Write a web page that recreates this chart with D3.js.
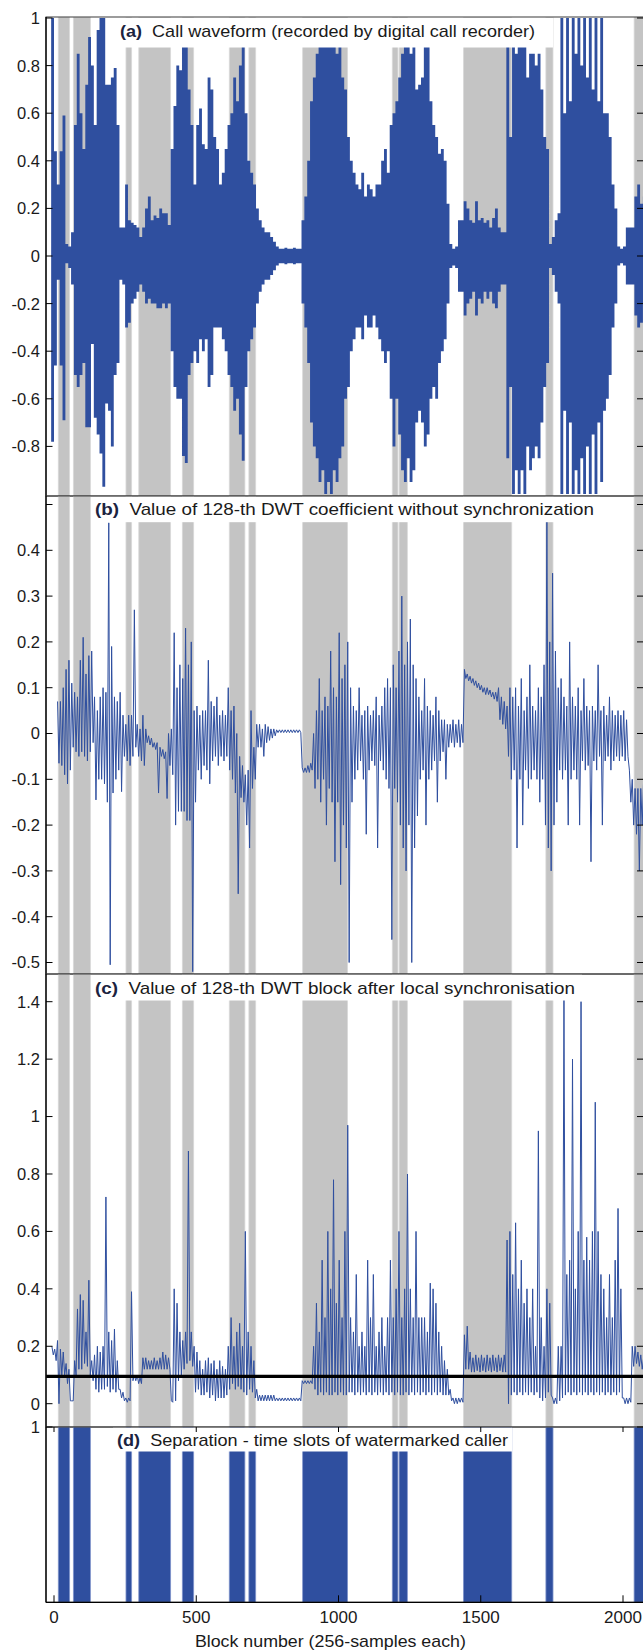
<!DOCTYPE html>
<html>
<head>
<meta charset="utf-8">
<script src="https://cdn.jsdelivr.net/npm/d3@7"></script>
<style>
body { margin:0; background:#fff; }
svg { display:block; font-family:"Liberation Sans", Arial, sans-serif; }
</style>
</head>
<body>
<svg id="chart" width="643" height="1652"></svg>
<script>
// every series is binned: one value per 10 blocks, first bin starts at block -10
let bin_start = -10, bin_size = 10;

// time slots of the watermarked caller [first block, last block]
let slots = [[15,55],[68,128],[253,273],[298,410],[451,491],[616,671],[685,709],
             [874,1032],[1189,1209],[1213,1242],[1439,1609],[1729,1754],[2039,2090]];

// (a) waveform envelope, max / min per bin
let a_hi = [1.0,0.44,0.3,0.44,0.59,0.05,0.04,0.1,0.55,0.85,
  0.6,0.45,0.72,0.92,0.8,0.55,0.95,1.0,1.0,0.72,
  0.72,0.75,0.79,0.55,0.12,0.12,0.3,0.15,0.14,0.13,
  0.12,0.08,0.12,0.2,0.25,0.15,0.17,0.16,0.2,0.18,
  0.18,0.13,0.45,0.63,0.8,0.78,0.88,0.88,0.7,0.55,
  0.3,0.55,0.62,0.47,0.45,0.75,0.7,0.5,0.45,0.3,
  0.35,0.45,0.55,0.6,0.75,0.65,0.8,0.88,0.6,0.4,
  0.35,0.3,0.2,0.15,0.12,0.1,0.1,0.08,0.06,0.04,
  0.03,0.03,0.035,0.03,0.03,0.035,0.03,0.03,0.15,0.25,
  0.4,0.65,0.75,0.85,1.0,0.9,1.0,0.95,1.0,0.9,
  0.85,0.9,0.75,0.7,0.5,0.4,0.35,0.3,0.28,0.35,
  0.25,0.3,0.28,0.25,0.3,0.3,0.4,0.45,0.35,0.55,
  0.6,0.65,0.75,0.85,0.9,0.95,0.85,0.95,0.7,0.72,
  0.75,0.88,0.88,0.65,0.55,0.5,0.43,0.45,0.4,0.22,
  0.05,0.03,0.04,0.15,0.15,0.23,0.2,0.15,0.14,0.23,
  0.15,0.16,0.14,0.15,0.12,0.16,0.2,0.12,0.1,0.1,
  0.88,0.5,1.0,0.85,1.0,0.88,1.0,0.75,0.85,0.85,
  0.8,0.85,0.7,0.5,0.45,0.05,0.08,0.15,0.18,1.0,
  0.6,1.0,0.65,1.0,0.85,1.0,0.8,1.0,0.75,1.0,
  0.7,1.0,0.65,1.0,0.6,0.6,0.5,0.3,0.2,0.04,
  0.03,0.04,0.12,0.12,0.12,0.25,0.3,0.22,0.25];
let a_lo = [-0.78,-0.46,-0.1,-0.46,-0.69,-0.03,-0.05,-0.12,-0.5,-0.55,
  -0.5,-0.45,-0.72,-0.72,-0.37,-0.68,-0.75,-0.83,-0.97,-0.62,
  -0.65,-0.8,-0.5,-0.45,-0.1,-0.12,-0.3,-0.28,-0.2,-0.18,
  -0.15,-0.12,-0.15,-0.2,-0.18,-0.2,-0.2,-0.22,-0.22,-0.2,
  -0.22,-0.2,-0.4,-0.55,-0.6,-0.6,-0.84,-0.87,-0.5,-0.45,
  -0.4,-0.45,-0.35,-0.4,-0.35,-0.55,-0.5,-0.3,-0.3,-0.3,
  -0.35,-0.4,-0.5,-0.55,-0.65,-0.6,-0.75,-0.86,-0.55,-0.4,
  -0.35,-0.3,-0.2,-0.15,-0.12,-0.1,-0.1,-0.08,-0.06,-0.04,
  -0.03,-0.03,-0.035,-0.03,-0.03,-0.035,-0.03,-0.03,-0.2,-0.3,
  -0.45,-0.7,-0.8,-0.85,-0.95,-0.9,-1.0,-0.95,-1.0,-0.9,
  -0.95,-0.85,-0.8,-0.6,-0.55,-0.4,-0.35,-0.3,-0.3,-0.35,
  -0.25,-0.3,-0.3,-0.25,-0.3,-0.35,-0.4,-0.45,-0.4,-0.6,
  -0.8,-0.6,-0.75,-0.9,-0.95,-0.85,-0.95,-0.9,-0.7,-0.65,
  -0.7,-0.8,-0.75,-0.6,-0.55,-0.6,-0.45,-0.4,-0.35,-0.2,
  -0.05,-0.04,-0.05,-0.15,-0.15,-0.25,-0.2,-0.18,-0.15,-0.25,
  -0.18,-0.2,-0.15,-0.18,-0.15,-0.2,-0.22,-0.15,-0.12,-0.12,
  -0.85,-0.55,-1.0,-0.9,-1.0,-0.9,-1.0,-0.8,-0.9,-0.85,
  -0.8,-0.85,-0.7,-0.55,-0.45,-0.05,-0.08,-0.15,-0.2,-1.0,
  -0.65,-1.0,-0.7,-1.0,-0.9,-1.0,-0.85,-1.0,-0.8,-1.0,
  -0.75,-1.0,-0.7,-0.95,-0.65,-0.6,-0.5,-0.3,-0.2,-0.04,
  -0.03,-0.04,-0.12,-0.12,-0.12,-0.25,-0.3,-0.28,-0.2];

// (b) 128-th DWT coefficient, max / min per bin
let b_hi = [null,null,0.07,0.07,0.1,0.14,0.16,0.11,0.09,0.08,
  0.16,0.21,0.13,0.17,0.18,0.08,0.05,0.08,0.1,0.09,
  0.46,0.19,0.08,0.07,0.09,0.04,0.02,0.04,0.04,0.27,
  0.02,0.01,0.04,0.01,-0.005,-0.01,-0.02,-0.02,-0.03,-0.035,
  -0.04,0.0,0.01,0.22,0.1,0.15,0.12,0.23,0.15,0.2,
  0.05,0.06,0.04,0.05,0.05,0.16,0.07,0.06,0.08,0.04,
  0.05,0.04,0.1,0.05,0.06,0.0,-0.05,-0.07,-0.09,-0.08,
  0.05,-0.03,0.02,0.02,0.01,0.02,0.015,0.01,0.01,0.008,
  0.008,0.008,0.008,0.008,0.008,0.008,0.008,0.008,-0.075,-0.075,
  -0.07,-0.065,0.0,0.05,0.12,0.05,0.08,0.06,0.18,0.1,
  0.08,0.22,0.12,0.15,0.2,0.1,0.06,0.05,0.1,0.04,
  0.05,0.06,0.04,0.05,0.08,0.04,0.06,0.1,0.12,0.1,
  0.15,0.1,0.18,0.3,0.15,0.2,0.25,0.15,0.12,0.08,
  0.05,0.12,0.06,0.05,0.04,0.08,0.05,0.03,0.03,0.02,
  0.02,0.03,0.02,0.03,0.02,0.14,0.13,0.125,0.12,0.115,
  0.11,0.105,0.1,0.1,0.095,0.09,0.09,0.1,0.08,0.07,
  0.06,0.1,0.08,0.1,0.06,0.12,0.05,0.08,0.15,0.06,
  0.05,0.1,0.08,0.15,0.47,0.2,0.35,0.18,0.1,0.12,
  0.08,0.06,0.2,0.08,0.06,0.1,0.05,0.12,0.06,0.05,
  0.06,0.05,0.15,0.05,0.06,0.04,0.08,0.05,0.04,0.05,
  0.04,0.05,0.03,-0.08,-0.1,-0.12,-0.12,-0.12,-0.1];
let b_lo = [null,null,-0.065,-0.07,-0.09,-0.11,-0.08,-0.03,-0.04,-0.05,
  -0.04,-0.05,-0.06,-0.04,-0.02,-0.145,-0.1,-0.1,-0.11,-0.15,
  -0.505,-0.13,-0.1,-0.08,-0.127,-0.05,-0.06,-0.07,-0.05,-0.03,
  -0.05,-0.06,-0.07,-0.02,-0.025,-0.03,-0.035,-0.13,-0.05,-0.055,
  -0.142,-0.07,-0.09,-0.2,-0.17,-0.17,-0.17,-0.19,-0.19,-0.52,
  -0.15,-0.08,-0.1,-0.07,-0.08,-0.11,-0.06,-0.05,-0.07,-0.05,
  -0.06,-0.05,-0.08,-0.1,-0.13,-0.35,-0.14,-0.15,-0.2,-0.25,
  -0.12,-0.1,-0.03,-0.03,-0.05,-0.02,-0.015,-0.01,-0.005,0.002,
  0.002,0.002,0.002,0.002,0.002,0.002,0.002,0.002,-0.085,-0.085,
  -0.085,-0.08,-0.12,-0.1,-0.15,-0.1,-0.2,-0.12,-0.15,-0.28,
  -0.15,-0.33,-0.2,-0.25,-0.5,-0.15,-0.1,-0.08,-0.06,-0.1,
  -0.22,-0.08,-0.06,-0.07,-0.25,-0.06,-0.08,-0.1,-0.12,-0.45,
  -0.12,-0.15,-0.2,-0.25,-0.3,-0.2,-0.5,-0.25,-0.18,-0.1,
  -0.08,-0.2,-0.1,-0.08,-0.06,-0.15,-0.06,-0.04,-0.1,-0.03,
  -0.02,-0.03,-0.02,-0.03,-0.02,0.12,0.115,0.11,0.105,0.1,
  0.095,0.09,0.085,0.085,0.08,0.075,0.07,0.03,0.02,0.01,
  -0.05,-0.1,-0.08,-0.25,-0.1,-0.2,-0.08,-0.12,-0.1,-0.08,
  -0.1,-0.15,-0.1,-0.2,-0.25,-0.3,-0.2,-0.15,-0.08,-0.1,
  -0.08,-0.2,-0.1,-0.08,-0.1,-0.2,-0.06,-0.08,-0.07,-0.28,
  -0.06,-0.08,-0.05,-0.2,-0.06,-0.05,-0.08,-0.06,-0.05,-0.06,
  -0.05,-0.06,-0.05,-0.15,-0.2,-0.22,-0.3,-0.2,-0.18];

// (c) 128-th DWT block after local synchronisation, max / min per bin
let c_hi = [0.2,0.19,0.22,0.19,0.18,0.14,0.12,0.01,0.15,0.33,
  0.38,0.36,0.25,0.43,0.15,0.17,0.2,0.18,0.2,0.72,
  0.25,0.22,0.26,0.15,0.05,0.04,0.02,0.02,0.39,0.1,
  0.1,0.09,0.16,0.16,0.15,0.15,0.16,0.15,0.16,0.18,
  0.17,0.16,0.01,0.4,0.35,0.25,0.22,0.25,0.88,0.25,
  0.2,0.18,0.15,0.12,0.15,0.16,0.14,0.15,0.12,0.15,
  0.13,0.12,0.2,0.3,0.2,0.25,0.28,0.2,0.6,0.25,
  0.2,0.15,0.05,0.03,0.03,0.03,0.03,0.03,0.03,0.02,
  0.02,0.02,0.02,0.02,0.02,0.02,0.02,0.02,0.08,0.08,
  0.08,0.08,0.2,0.35,0.25,0.5,0.3,0.6,0.4,0.78,
  0.35,0.5,0.3,0.6,0.97,0.3,0.25,0.45,0.2,0.25,
  0.2,0.5,0.3,0.45,0.2,0.25,0.3,0.2,0.3,0.5,
  0.3,0.4,0.6,0.3,0.4,0.8,0.4,0.3,0.6,0.3,
  0.3,0.3,0.25,0.42,0.4,0.35,0.25,0.2,0.15,0.12,
  0.05,0.02,0.02,0.02,0.02,0.24,0.27,0.18,0.16,0.17,
  0.16,0.17,0.16,0.17,0.16,0.17,0.16,0.17,0.16,0.17,
  0.57,0.6,0.45,0.63,0.4,0.5,0.35,0.4,0.3,0.4,
  0.2,0.95,0.3,0.2,0.4,0.35,0.02,0.02,0.2,0.2,
  1.42,0.45,0.5,1.2,0.4,0.6,1.4,0.5,0.58,0.5,
  0.6,1.05,0.6,0.45,0.4,0.3,0.45,0.3,0.5,0.68,
  0.4,0.02,0.02,0.02,0.2,0.2,0.18,0.17,0.16];
let c_lo = [0.17,0.15,0.0,0.1,0.1,0.07,0.01,0.01,0.1,0.12,
  0.12,0.14,0.13,0.1,0.08,0.05,0.04,0.05,0.05,0.06,
  0.04,0.05,0.04,0.05,0.02,0.01,0.005,0.01,0.08,0.08,
  0.07,0.07,0.12,0.12,0.12,0.12,0.12,0.12,0.12,0.12,
  0.12,0.12,0.005,0.01,0.08,0.1,0.12,0.14,0.15,0.13,
  0.04,0.05,0.03,0.03,0.04,0.02,0.03,0.01,0.02,0.02,
  0.02,0.03,0.05,0.07,0.05,0.06,0.05,0.04,0.03,0.05,
  0.04,0.02,0.01,0.01,0.01,0.01,0.01,0.01,0.01,0.01,
  0.01,0.01,0.01,0.01,0.01,0.01,0.01,0.01,0.07,0.07,
  0.07,0.07,0.05,0.03,0.04,0.03,0.04,0.03,0.03,0.04,
  0.03,0.04,0.03,0.03,0.04,0.04,0.03,0.04,0.03,0.04,
  0.03,0.04,0.03,0.04,0.03,0.04,0.03,0.04,0.03,0.04,
  0.03,0.04,0.03,0.03,0.04,0.03,0.04,0.03,0.04,0.03,
  0.04,0.03,0.04,0.03,0.04,0.03,0.04,0.03,0.03,0.03,
  0.01,0.0,0.0,0.005,0.005,0.12,0.12,0.11,0.11,0.115,
  0.11,0.115,0.11,0.115,0.11,0.115,0.11,0.115,0.11,0.11,
  0.0,0.03,0.04,0.03,0.04,0.03,0.04,0.03,0.04,0.03,
  0.04,0.02,0.01,0.02,0.04,0.03,0.0,0.0,0.01,0.02,
  0.03,0.04,0.03,0.04,0.03,0.04,0.03,0.04,0.03,0.04,
  0.03,0.04,0.03,0.04,0.03,0.04,0.03,0.04,0.03,0.04,
  0.02,0.0,0.0,0.005,0.13,0.14,0.13,0.12,0.13];

let threshold = 0.095;

let x_ticks = [0, 500, 1000, 1500, 2000];
let a_ticks = [1, 0.8, 0.6, 0.4, 0.2, 0, -0.2, -0.4, -0.6, -0.8];
let b_ticks = [0.5, 0.4, 0.3, 0.2, 0.1, 0, -0.1, -0.2, -0.3, -0.4, -0.5];
let b_labels = ["", "0.4", "0.3", "0.2", "0.1", "0", "-0.1", "-0.2", "-0.3", "-0.4", "-0.5"];
let c_ticks = [1.4, 1.2, 1, 0.8, 0.6, 0.4, 0.2, 0];
let d_ticks = [1];

let titles = ["(a)", "(b)", "(c)", "(d)"];
let title_texts = ["Call waveform (recorded by digital call recorder)",
                   "Value of 128-th DWT coefficient without synchronization",
                   "Value of 128-th DWT block after local synchronisation",
                   "Separation - time slots of watermarked caller"];
let x_title = "Block number (256-samples each)";

let blue = "#2f4f9f", grey = "#c4c4c4";
let left = 46, right = 643.5;

let svg = d3.select("#chart");
let x = d3.scaleLinear().domain([0, 2000]).range([54, 623]);

let panels = [
    { top: 17,   bottom: 496,    y: d3.scaleLinear().domain([-1, 1]).range([494, 18]),
      ticks: a_ticks, labels: null, box: [116, 553, 30], tx: 120, ty: 37.3, tw: 415 },
    { top: 496,  bottom: 974,    y: d3.scaleLinear().domain([-0.5, 0.5]).range([962.5, 504.5]),
      ticks: b_ticks, labels: b_labels, box: [91, 600, 25.7], tx: 95, ty: 515, tw: 499 },
    { top: 974,  bottom: 1427,   y: d3.scaleLinear().domain([0, 1.4]).range([1403.7, 1001.7]),
      ticks: c_ticks, labels: null, box: [91, 582, 26], tx: 95, ty: 994.3, tw: 480 },
    { top: 1427, bottom: 1602.3, y: d3.scaleLinear().domain([0, 1]).range([1602.3, 1427]),
      ticks: d_ticks, labels: null, box: [113, 512, 24], tx: 117, ty: 1446, tw: 391 }
];

let fmt = function(v){ return String(+v.toFixed(1)); };

panels.forEach(function(p, i){
    let g = svg.append("g");
    let clip_id = "clip" + i;
    svg.append("clipPath").attr("id", clip_id)
        .append("rect")
        .attr("x", left).attr("y", p.top)
        .attr("width", right - left).attr("height", p.bottom - p.top);

    let body = g.append("g").attr("clip-path", "url(#" + clip_id + ")");

    if (i < 3) {
        // grey bands marking the caller's time slots
        body.selectAll("rect.slot")
            .data(slots)
            .enter().append("rect")
                .attr("class", "slot")
                .attr("x", function(d){ return x(d[0]); })
                .attr("width", function(d){ return x(d[1]) - x(d[0]); })
                .attr("y", p.top)
                .attr("height", p.bottom - p.top)
                .attr("fill", grey)
                .attr("stroke", "#dadada")
                .attr("stroke-width", 0.8);
    }

    if (i == 0) {
        let pts = a_hi.map(function(h, k){ return { b: bin_start + k*bin_size, hi: h, lo: a_lo[k] }; });
        pts.push({ b: bin_start + a_hi.length*bin_size, hi: a_hi[a_hi.length-1], lo: a_lo[a_lo.length-1] });
        let area = d3.area()
            .x(function(d){ return x(d.b); })
            .y0(function(d){ return p.y(d.lo); })
            .y1(function(d){ return p.y(d.hi); })
            .curve(d3.curveStepAfter);
        body.append("path").attr("d", area(pts)).attr("fill", blue);
    }

    if (i == 1 || i == 2) {
        let hi = i == 1 ? b_hi : c_hi, lo = i == 1 ? b_lo : c_lo;
        let pts = [];
        hi.forEach(function(h, k){
            if (h == null) return;
            let b = bin_start + k*bin_size;
            pts.push([b + 2.5, h]);
            pts.push([b + 7.5, lo[k]]);
        });
        let line = d3.line()
            .x(function(d){ return x(d[0]); })
            .y(function(d){ return p.y(d[1]); });
        body.append("path").attr("d", line(pts))
            .attr("fill", "none").attr("stroke", blue).attr("stroke-width", 1);
    }

    if (i == 2) {
        body.append("line")
            .attr("x1", left).attr("x2", right)
            .attr("y1", p.y(threshold)).attr("y2", p.y(threshold))
            .attr("stroke", "#000").attr("stroke-width", 3.2);
    }

    if (i == 3) {
        body.selectAll("rect.bar")
            .data(slots)
            .enter().append("rect")
                .attr("class", "bar")
                .attr("x", function(d){ return x(d[0]); })
                .attr("width", function(d){ return x(d[1]) - x(d[0]); })
                .attr("y", p.y(1))
                .attr("height", p.y(0) - p.y(1))
                .attr("fill", blue)
                .attr("stroke", "#8296cc")
                .attr("stroke-width", 0.8);
    }

    // title on white box
    g.append("rect")
        .attr("x", p.box[0]).attr("y", p.top + 0.5)
        .attr("width", p.box[1] - p.box[0]).attr("height", p.box[2])
        .attr("fill", "#fff");
    let t = g.append("text")
        .attr("x", p.tx).attr("y", p.ty)
        .attr("font-size", 17).attr("fill", "#1a1a1a")
        .attr("textLength", p.tw).attr("lengthAdjust", "spacingAndGlyphs");
    t.append("tspan").attr("font-weight", "bold").attr("fill", "#1b2340").text(titles[i]);
    t.append("tspan").text("\u00a0 " + title_texts[i]);

    // frame
    g.append("rect")
        .attr("x", left).attr("y", p.top)
        .attr("width", right - left).attr("height", p.bottom - p.top)
        .attr("fill", "none").attr("stroke", "#3a3a3a").attr("stroke-width", 1);
    g.append("line")
        .attr("x1", left).attr("x2", left).attr("y1", p.top).attr("y2", p.bottom)
        .attr("stroke", "#000").attr("stroke-width", 1.3);

    // y ticks, inward on both sides
    let ty = g.append("g").selectAll("g").data(p.ticks).enter().append("g");
    ty.append("line")
        .attr("x1", left).attr("x2", left + 6.5)
        .attr("y1", function(d){ return p.y(d); }).attr("y2", function(d){ return p.y(d); })
        .attr("stroke", "#000");
    ty.append("line")
        .attr("x1", right - 6.5).attr("x2", right)
        .attr("y1", function(d){ return p.y(d); }).attr("y2", function(d){ return p.y(d); })
        .attr("stroke", "#000");
    ty.append("text")
        .attr("x", 40).attr("y", function(d){ return p.y(d); })
        .attr("dy", "0.36em").attr("text-anchor", "end")
        .attr("font-size", 16.5).attr("fill", "#1a1a1a")
        .text(function(d, k){ return p.labels ? p.labels[k] : fmt(d); });
});

// x axis on the bottom panel
let pd = panels[3];
let tx = svg.append("g").selectAll("g").data(x_ticks).enter().append("g");
tx.append("line")
    .attr("x1", function(d){ return x(d); }).attr("x2", function(d){ return x(d); })
    .attr("y1", pd.bottom).attr("y2", pd.bottom - 7)
    .attr("stroke", "#000");
tx.append("line")
    .attr("x1", function(d){ return x(d); }).attr("x2", function(d){ return x(d); })
    .attr("y1", pd.top).attr("y2", pd.top + 5)
    .attr("stroke", "#000");
tx.append("text")
    .attr("x", function(d){ return x(d); }).attr("y", 1622.7)
    .attr("text-anchor", "middle").attr("font-size", 17).attr("fill", "#1a1a1a")
    .text(function(d){ return d; });
svg.append("line")
    .attr("x1", left).attr("x2", right).attr("y1", pd.bottom).attr("y2", pd.bottom)
    .attr("stroke", "#000").attr("stroke-width", 1.3);

svg.append("text")
    .attr("x", 330.4).attr("y", 1646.5)
    .attr("text-anchor", "middle").attr("font-size", 17).attr("fill", "#1a1a1a")
    .attr("textLength", 271).attr("lengthAdjust", "spacingAndGlyphs")
    .text(x_title);
</script>
</body>
</html>
